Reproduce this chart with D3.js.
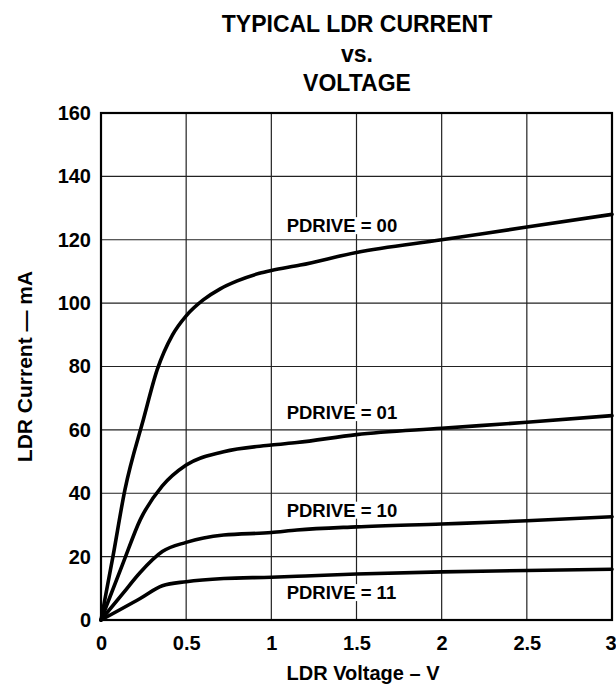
<!DOCTYPE html>
<html>
<head>
<meta charset="utf-8">
<script src="https://cdn.jsdelivr.net/npm/d3@7"></script>
<style>
  body { margin: 0; background: #fff; }
  svg { font-family: "Liberation Sans", Arial, Helvetica, sans-serif; font-weight: bold; }
</style>
</head>
<body>
<div id="chart-area"></div>
<script>
// data
const xTicks = [0, 0.5, 1, 1.5, 2, 2.5, 3];
const yTicks = [0, 20, 40, 60, 80, 100, 120, 140, 160];
const seriesNames = ['PDRIVE = 00', 'PDRIVE = 01', 'PDRIVE = 10', 'PDRIVE = 11'];

const pd00V = [0, 0.07, 0.14, 0.25, 0.33, 0.42, 0.5, 0.6, 0.7, 0.8, 0.93, 1.0, 1.17, 1.5, 2.0, 2.5, 3.0];
const pd00I = [0, 20, 41, 63.5, 79, 90, 96, 101, 104.5, 107, 109.4, 110.3, 112, 116, 120, 124, 128];

const pd01V = [0, 0.13, 0.23, 0.36, 0.5, 0.72, 1.0, 1.15, 1.5, 2.0, 2.5, 3.0];
const pd01I = [0, 18, 31.6, 42.3, 48.9, 53.1, 55.2, 56, 58.5, 60.5, 62.4, 64.5];

const pd10V = [0, 0.13, 0.23, 0.36, 0.5, 0.72, 1.0, 1.15, 1.5, 2.0, 2.5, 3.0];
const pd10I = [0, 8.5, 15, 21.6, 24.5, 26.8, 27.6, 28.4, 29.4, 30.3, 31.3, 32.6];

const pd11V = [0, 0.23, 0.36, 0.5, 0.72, 1.0, 1.2, 1.5, 2.0, 2.5, 3.0];
const pd11I = [0, 6.8, 10.8, 12.1, 13.1, 13.5, 13.9, 14.5, 15.2, 15.6, 16];

// label anchor (V, mA) for each curve label
const labelV = [1.09, 1.09, 1.09, 1.09];
const labelI = [122.4, 63.4, 32.6, 6.6];

const MARGIN = {LEFT: 101, RIGHT: 4, TOP: 113, BOTTOM: 70};
const W = 616, H = 690;
const WIDTH = W - MARGIN.LEFT - MARGIN.RIGHT;
const HEIGHT = H - MARGIN.TOP - MARGIN.BOTTOM;

const svg = d3.select('#chart-area')
  .append('svg')
  .attr('width', W)
  .attr('height', H);

// title
const title = ['TYPICAL LDR CURRENT', 'vs.', 'VOLTAGE'];
svg.selectAll('.title')
  .data(title)
  .enter().append('text')
  .attr('class', 'title')
  .attr('x', 357)
  .attr('y', (d, i) => 32 + i * 29.5)
  .attr('text-anchor', 'middle')
  .attr('font-size', '23px')
  .text(d => d);

const g = svg.append('g')
  .attr('transform', `translate(${MARGIN.LEFT},${MARGIN.TOP})`);

const x = d3.scaleLinear().domain([0, 3]).range([0, WIDTH]);
const y = d3.scaleLinear().domain([0, 160]).range([HEIGHT, 0]);

// grid
g.append('g')
  .attr('class', 'grid')
  .selectAll('line.v')
  .data(xTicks)
  .enter().append('line')
  .attr('x1', d => x(d)).attr('x2', d => x(d))
  .attr('y1', 0).attr('y2', HEIGHT)
  .attr('stroke', '#222').attr('stroke-width', 1.2);

g.append('g')
  .attr('class', 'grid')
  .selectAll('line.h')
  .data(yTicks)
  .enter().append('line')
  .attr('x1', 0).attr('x2', WIDTH)
  .attr('y1', d => y(d)).attr('y2', d => y(d))
  .attr('stroke', '#222').attr('stroke-width', 1.2);

// axes (labels only, frame drawn separately)
const xAxisCall = d3.axisBottom(x)
  .tickValues(xTicks)
  .tickSize(0)
  .tickPadding(16)
  .tickFormat(d => String(d));
g.append('g')
  .attr('class', 'x axis')
  .attr('transform', `translate(0,${HEIGHT})`)
  .call(xAxisCall)
  .call(a => a.select('.domain').remove())
  .selectAll('text')
  .attr('font-size', '20px')
  .attr('font-family', '"Liberation Sans", Arial, sans-serif')
  .attr('font-weight', 'bold')
  .attr('fill', '#000')
  // keep the last label inside the window
  .attr('text-anchor', d => d === 3 ? 'end' : 'middle')
  .attr('dx', d => d === 3 ? '4' : '0');

const yAxisCall = d3.axisLeft(y)
  .tickValues(yTicks)
  .tickSize(0)
  .tickPadding(10)
  .tickFormat(d => String(d));
g.append('g')
  .attr('class', 'y axis')
  .call(yAxisCall)
  .call(a => a.select('.domain').remove())
  .selectAll('text')
  .attr('font-size', '20px')
  .attr('font-family', '"Liberation Sans", Arial, sans-serif')
  .attr('font-weight', 'bold')
  .attr('fill', '#000');

// frame
g.append('rect')
  .attr('x', 0).attr('y', 0)
  .attr('width', WIDTH).attr('height', HEIGHT)
  .attr('fill', 'none')
  .attr('stroke', '#000')
  .attr('stroke-width', 2.2);

// curve labels with white backing
const labels = g.selectAll('.curve-label')
  .data(seriesNames)
  .enter().append('g')
  .attr('class', 'curve-label');

labels.append('text')
  .attr('x', (d, i) => x(labelV[i]))
  .attr('y', (d, i) => y(labelI[i]))
  .attr('font-size', '18.5px')
  .text(d => d);

labels.each(function () {
  const t = d3.select(this).select('text');
  const b = t.node().getBBox();
  d3.select(this).insert('rect', 'text')
    .attr('x', b.x - 1).attr('y', b.y + 2)
    .attr('width', b.width + 2).attr('height', b.height - 4)
    .attr('fill', '#fff');
});

// curves
const series = [
  {v: pd00V, i: pd00I},
  {v: pd01V, i: pd01I},
  {v: pd10V, i: pd10I},
  {v: pd11V, i: pd11I}
];

const line = d3.line()
  .x(d => x(d[0]))
  .y(d => y(d[1]))
  .curve(d3.curveMonotoneX);

g.selectAll('.curve')
  .data(series)
  .enter().append('path')
  .attr('class', 'curve')
  .attr('d', s => line(s.v.map((v, k) => [v, s.i[k]])))
  .attr('fill', 'none')
  .attr('stroke', '#000')
  .attr('stroke-width', 3.6)
  .attr('stroke-linejoin', 'round')
  .attr('stroke-linecap', 'round');

// axis titles
svg.append('text')
  .attr('x', 363)
  .attr('y', 680)
  .attr('text-anchor', 'middle')
  .attr('font-size', '20px')
  .text('LDR Voltage \u2013 V');

svg.append('text')
  .attr('transform', `translate(32,${MARGIN.TOP + HEIGHT / 2}) rotate(-90)`)
  .attr('text-anchor', 'middle')
  .attr('font-size', '21px')
  .text('LDR Current \u2014 mA');
</script>
</body>
</html>
